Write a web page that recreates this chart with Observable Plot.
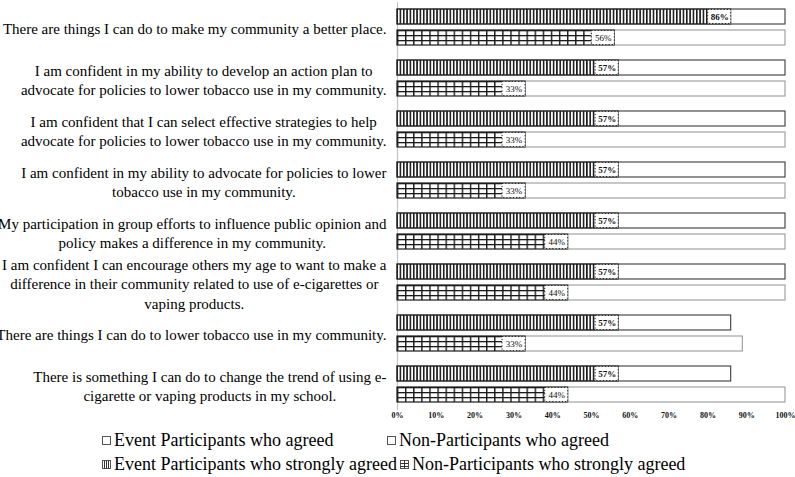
<!DOCTYPE html>
<html><head><meta charset="utf-8">
<script src="https://cdn.jsdelivr.net/npm/d3@7"></script>
<script src="https://cdn.jsdelivr.net/npm/@observablehq/plot@0.6"></script>
<style>
body{margin:0;background:#fff;font-family:"Liberation Serif","Times New Roman",serif;}
#legend{position:relative;height:51px;font-size:18px;color:#000;}
.row{position:absolute;white-space:nowrap;display:flex;align-items:center;line-height:24px;}
.item{position:absolute;white-space:nowrap;display:flex;align-items:center;line-height:24px;}
.item svg,.row svg{margin-right:3px;}
.gap{display:inline-block;width:3px;}
</style></head><body>
<svg width="0" height="0" style="position:absolute">
<defs>
<pattern id="vlines" patternUnits="userSpaceOnUse" width="3.33" height="10"><rect x="0" y="0" width="1.6" height="10" fill="#1a1a1a"/></pattern>
<pattern id="gridV" patternUnits="userSpaceOnUse" width="8.1" height="10"><rect x="0" y="0" width="1.4" height="10" fill="#1a1a1a"/></pattern>
<pattern id="gridH" patternUnits="objectBoundingBox" width="1" height="0.3333"><rect x="0" y="0" width="3000" height="1.3" fill="#1a1a1a"/></pattern>
</defs></svg>
<div id="chart"></div>
<div id="legend"></div>
<script>
const statements = [
  "There are things I can do to make my community a better place.",
  "I am confident in my ability to develop an action plan to\nadvocate for policies to lower tobacco use in my community.",
  "I am confident that I can select effective strategies to help\nadvocate for policies to lower tobacco use in my community.",
  "I am confident in my ability to advocate for policies to lower\ntobacco use in my community.",
  "My participation in group efforts to influence public opinion and\npolicy makes a difference in my community.",
  "I am confident I can encourage others my age to want to make a\ndifference in their community related to use of e-cigarettes or\nvaping products.",
  "There are things I can do to lower tobacco use in my community.",
  "There is something I can do to change the trend of using e-\ncigarette or vaping products in my school."
];
const eventStrong = [86, 57, 57, 57, 57, 57, 57, 57];
const eventAgreed = [14, 43, 43, 43, 43, 43, 29, 29];
const nonStrong = [56, 33, 33, 33, 44, 44, 33, 44];
const nonAgreed = [44, 67, 67, 67, 56, 56, 56, 56];
const groups = ["Event", "Non"];
const xTicks = [0, 10, 20, 30, 40, 50, 60, 70, 80, 90, 100];
const legendLabels = [
  "Event Participants who agreed",
  "Non-Participants who agreed",
  "Event Participants who strongly agreed",
  "Non-Participants who strongly agreed"
];

const rows = [];
statements.forEach((s, i) => {
  rows.push({stmt: s, who: groups[0], strong: eventStrong[i], agreed: eventAgreed[i]});
  rows.push({stmt: s, who: groups[1], strong: nonStrong[i], agreed: nonAgreed[i]});
});
const ev = rows.filter(d => d.who === "Event");
const non = rows.filter(d => d.who === "Non");

const ML = 397;
const ctx = document.createElement("canvas").getContext("2d");
ctx.font = "15px 'Liberation Serif'";
const labelAxes = statements.map(s => {
  const w = Math.max(...s.split("\n").map(l => ctx.measureText(l).width));
  const center = 386 - w / 2;
  return Plot.axisFy({
    ticks: [s], anchor: "left", tickSize: 0, tickPadding: 0, label: null,
    textAnchor: "middle", dx: center - ML, fontSize: 15, lineHeight: 1.3,
    fill: "#000"
  });
});

const chart = Plot.plot({
  width: 795, height: 426,
  marginLeft: ML, marginRight: 10, marginTop: 1, marginBottom: 15,
  style: {fontFamily: "'Liberation Serif', 'Times New Roman', serif", background: "#fff", color: "#000"},
  x: {domain: [0, 100]},
  y: {domain: groups, paddingInner: 0.27, paddingOuter: 0.3, axis: null},
  fy: {domain: statements, padding: 0},
  marks: [
    Plot.ruleX([0], {stroke: "#c4c4c4", strokeWidth: 1.2}),
    Plot.barX(ev, {fy: "stmt", y: "who", x1: 0, x2: d => d.strong + d.agreed, fill: "white", stroke: "#3a3a3a", strokeWidth: 1.1}),
    Plot.barX(non, {fy: "stmt", y: "who", x1: 0, x2: d => d.strong + d.agreed, fill: "white", stroke: "#9a9a9a", strokeWidth: 1.1}),
    Plot.barX(ev, {fy: "stmt", y: "who", x1: 0, x2: "strong", fill: "url(#vlines)", stroke: "#222", strokeWidth: 1}),
    Plot.barX(non, {fy: "stmt", y: "who", x1: 0, x2: "strong", fill: "url(#gridV)", stroke: "#222", strokeWidth: 1}),
    Plot.barX(non, {fy: "stmt", y: "who", x1: 0, x2: "strong", fill: "url(#gridH)"}),
    Plot.barX(rows, {fy: "stmt", y: "who", x1: "strong", x2: "strong", insetLeft: -23, insetTop: 0.5, insetBottom: 0.5, fill: "white", stroke: "#222", strokeDasharray: "1.2,2"}),
    Plot.text(ev, {fy: "stmt", y: "who", x: "strong", text: d => d.strong + "%", dx: -11.5, fontSize: 9, fontWeight: "bold", fill: "#111"}),
    Plot.text(non, {fy: "stmt", y: "who", x: "strong", text: d => d.strong + "%", dx: -11.5, fontSize: 9, fill: "#111"}),
    ...labelAxes,
    Plot.axisX({ticks: xTicks, tickFormat: d => d + "%", tickSize: 0, tickPadding: 2, label: null, fontSize: 8, fontWeight: "bold", fill: "#111"})
  ]
});
document.getElementById("chart").appendChild(chart);

const markers = [
  '<svg width="9" height="9"><rect x="0.5" y="0.5" width="8" height="8" fill="white" stroke="#555"/></svg>',
  '<svg width="9" height="9"><rect x="0.5" y="0.5" width="8" height="8" fill="white" stroke="#555"/></svg>',
  '<svg width="9" height="9"><rect x="0.5" y="0.5" width="8" height="8" fill="white" stroke="#555"/><rect x="2" y="0.5" width="1" height="8" fill="#333"/><rect x="4" y="0.5" width="1" height="8" fill="#333"/><rect x="6" y="0.5" width="1" height="8" fill="#333"/></svg>',
  '<svg width="9" height="9"><rect x="0.5" y="0.5" width="8" height="8" fill="white" stroke="#555"/><rect x="4" y="0.5" width="1" height="8" fill="#333"/><rect x="0.5" y="3" width="8" height="1" fill="#333"/><rect x="0.5" y="6" width="8" height="1" fill="#333"/></svg>'
];
const legend = document.getElementById("legend");
[[0, 102], [1, 387]].forEach(([i, left]) => {
  const el = document.createElement("div");
  el.className = "item";
  el.style.left = left + "px";
  el.style.top = "2px";
  el.innerHTML = markers[i] + "<span>" + legendLabels[i] + "</span>";
  legend.appendChild(el);
});
const row2 = document.createElement("div");
row2.className = "row";
row2.style.left = "102px";
row2.style.top = "26px";
row2.innerHTML = markers[2] + "<span>" + legendLabels[2] + "</span><span class='gap'></span>" + markers[3] + "<span>" + legendLabels[3] + "</span>";
legend.appendChild(row2);
</script>
</body></html>
